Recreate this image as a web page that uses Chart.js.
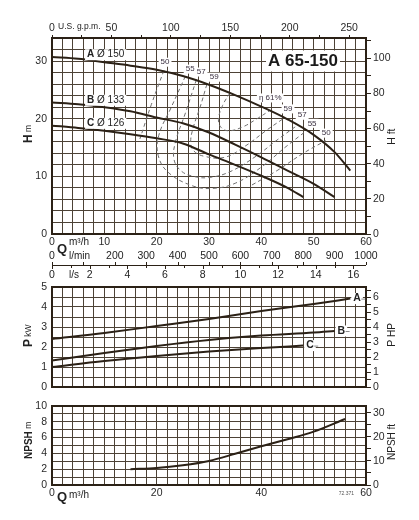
<!DOCTYPE html>
<html>
<head>
<meta charset="utf-8">
<script src="https://cdn.jsdelivr.net/npm/chart.js@4.4.0/dist/chart.umd.min.js"></script>
<style>
  body { margin: 0; background: #fff; }
  .caixa { position: absolute; left: 0; width: 419px; }
</style>
</head>
<body>
<div class="caixa" style="top:0;height:285px"><canvas id="grafH"></canvas></div>
<div class="caixa" style="top:275px;height:125px"><canvas id="grafP"></canvas></div>
<div class="caixa" style="top:393px;height:127px"><canvas id="grafN"></canvas></div>
<script>
// Curvas H-Q (vazão em m³/h, altura em m)
const qA = [0, 5, 10, 15, 20, 25, 30, 35, 40, 45, 50, 54, 57];
const hA = [30.7, 30.4, 29.8, 29.2, 28.5, 27.4, 25.9, 24.1, 22.1, 19.9, 17.2, 14.2, 11.0];
const qB = [0, 5, 10, 15, 20, 25, 30, 35, 40, 45, 50, 54];
const hB = [22.8, 22.5, 22.0, 21.3, 20.2, 19.2, 17.6, 15.5, 13.3, 11.0, 8.7, 6.4];
const qC = [0, 5, 10, 15, 20, 25, 30, 35, 40, 45, 48];
const hC = [18.8, 18.4, 17.9, 17.3, 16.6, 15.7, 13.8, 12.0, 10.1, 8.0, 6.4];
const nomes = ['A', 'B', 'C'];
const diametros = [150, 133, 126];

// Curvas de rendimento (tracejadas)
const q61 = [34.0, 32.6, 31.8, 32.3, 33.8, 36.5, 39.0, 41.6];
const h61 = [24.5, 22.3, 19.9, 18.5, 17.9, 18.6, 19.9, 21.4];
const q59 = [29.6, 28.3, 27.0, 26.5, 27.0, 29.0, 33.0, 37.0, 41.0, 44.5];
const h59 = [26.0, 22.0, 18.5, 16.0, 14.5, 13.5, 13.3, 15.3, 18.0, 20.2];
const q57 = [27.6, 25.5, 23.6, 23.3, 24.6, 27.0, 30.0, 34.0, 39.0, 43.0, 46.8];
const h57 = [26.8, 21.0, 16.0, 13.0, 11.0, 10.0, 9.8, 10.8, 13.5, 16.3, 18.8];
const q55 = [25.5, 22.8, 20.4, 20.3, 22.2, 26.7, 30.5, 35.0, 40.0, 44.5, 48.6];
const h55 = [27.4, 22.0, 17.1, 13.6, 10.7, 8.4, 7.9, 8.8, 11.6, 15.0, 17.9];
const q50a = [21.4, 19.0, 16.8];
const h50a = [28.4, 22.5, 16.5];
const q50b = [38.2, 43.0, 48.0, 52.3];
const h50b = [8.5, 11.0, 14.0, 16.2];
const etaTexto = ['50', '55', '57', '59', 'η 61%', '59', '57', '55', '50'];
const etaQ = [21.6, 26.4, 28.5, 31.0, 41.7, 45.1, 47.8, 49.7, 52.4];
const etaH = [29.8, 28.6, 28.1, 27.2, 23.6, 21.7, 20.6, 19.2, 17.5];

// Potência absorvida (kW)
const qPA = [0, 10, 20, 30, 40, 50, 57];
const pA = [2.4, 2.7, 3.05, 3.4, 3.8, 4.15, 4.42];
const qPB = [0, 10, 20, 30, 40, 50, 54];
const pB = [1.32, 1.7, 2.05, 2.35, 2.57, 2.72, 2.8];
const qPC = [0, 10, 20, 30, 40, 48];
const pC = [1.0, 1.3, 1.55, 1.77, 1.95, 2.07];

// NPSH (m)
const qN = [15, 20, 25, 30, 35, 40, 45, 50, 56];
const npsh = [2.0, 2.15, 2.5, 3.05, 3.95, 4.9, 5.8, 6.75, 8.35];

// Escalas secundárias
const ticksLmin = [200, 300, 400, 500, 600, 700, 800, 900, 1000];
const ticksLs = [2, 4, 6, 8, 10, 12, 14, 16];
const gpmPorM3h = 4.4029;
const ftPorM = 1 / 0.3048;
const hpPorKw = 1 / 0.7457;

const FONTE = "'Liberation Sans', Arial, Helvetica, sans-serif";
const COR_CURVA = '#2b2116';
const COR_GRADE = '#4d4236';
const COR_TRACO = '#6e6e6e';

Chart.defaults.font.family = FONTE;
Chart.defaults.font.size = 10.5;
Chart.defaults.color = '#2a2a2a';

const pts = (xs, ys) => xs.map((x, i) => ({ x: x, y: ys[i] }));
const multiplo = (v, m) => Math.abs(v - Math.round(v / m) * m) < 1e-6;
// lista de marcas de 0 até max (sem a marca extra no max)
function marcas(passo, max) {
    const r = [];
    for (let i = 0; i * passo <= max + 1e-9; i++) r.push({ value: +(i * passo).toFixed(6) });
    return r;
}

function curva(xs, ys) {
    return { data: pts(xs, ys), showLine: true, pointRadius: 0, borderColor: COR_CURVA, borderWidth: 2, cubicInterpolationMode: 'monotone' };
}
function tracejada(xs, ys) {
    return { data: pts(xs, ys), showLine: true, pointRadius: 0, borderColor: COR_TRACO, borderWidth: 1, borderDash: [4, 3], tension: 0.4 };
}

// texto em partes (fonte diferente em cada parte)
function rotulo(ctx, partes, x, y, alinhar, fundo) {
    let larg = 0;
    partes.forEach(p => { ctx.font = p[1]; larg += ctx.measureText(p[0]).width; });
    let x0 = alinhar === 'center' ? x - larg / 2 : (alinhar === 'right' ? x - larg : x);
    if (fundo) {
        ctx.fillStyle = '#fff';
        ctx.fillRect(x0 - 2, y - fundo / 2, larg + 4, fundo);
    }
    ctx.textBaseline = 'middle';
    ctx.textAlign = 'left';
    partes.forEach(p => {
        ctx.font = p[1];
        ctx.fillStyle = p[2] || '#222';
        ctx.fillText(p[0], x0, y);
        x0 += ctx.measureText(p[0]).width;
    });
}
function tituloVertical(ctx, partes, x, yBase) {
    ctx.save();
    ctx.translate(x, yBase);
    ctx.rotate(-Math.PI / 2);
    rotulo(ctx, partes, 0, 0, 'left');
    ctx.restore();
}
function moldura(ctx, ca) {
    ctx.strokeStyle = COR_CURVA;
    ctx.lineWidth = 2;
    ctx.strokeRect(ca.left, ca.top, ca.right - ca.left, ca.bottom - ca.top);
}

function eixoX(altura, rotulos, passoRot) {
    return {
        type: 'linear', position: 'bottom', min: 0, max: 60,
        afterBuildTicks: s => { s.ticks = marcas(2, 60); },
        ticks: { display: rotulos, padding: 2, autoSkip: false, maxRotation: 0,
                 callback: v => multiplo(v, passoRot) ? v : '' },
        grid: { color: COR_GRADE, drawTicks: false },
        border: { display: false },
        afterFit: s => { s.height = altura; }
    };
}
function eixoEsq(max, passo, passoRot) {
    return {
        type: 'linear', position: 'left', min: 0, max: max,
        afterBuildTicks: s => { s.ticks = marcas(passo, max); },
        ticks: { padding: 5, autoSkip: false, callback: v => multiplo(v, passoRot) ? v : '' },
        grid: { color: COR_GRADE, drawTicks: false },
        border: { display: false },
        afterFit: s => { s.width = 52; }
    };
}
function eixoDir(max, passo, passoRot) {
    return {
        type: 'linear', position: 'right', min: 0, max: max,
        afterBuildTicks: s => { s.ticks = marcas(passo, max); },
        ticks: { padding: 2, autoSkip: false, callback: v => multiplo(v, passoRot) ? v : '' },
        grid: { drawOnChartArea: false, tickLength: 5, color: COR_CURVA },
        border: { display: false },
        afterFit: s => { s.width = 53; }
    };
}
function eixoTopoVazio(altura) {
    return {
        type: 'linear', position: 'top', min: 0, max: 1,
        ticks: { display: false }, grid: { display: false }, border: { display: false },
        afterFit: s => { s.height = altura; }
    };
}
const opcoesBase = {
    responsive: true, maintainAspectRatio: false, animation: false,
    layout: { padding: 0 },
    plugins: { legend: { display: false }, tooltip: { enabled: false } }
};

// ---------------- Gráfico H-Q ----------------
const extrasH = {
    id: 'extrasH',
    afterDraw(chart) {
        const { ctx, chartArea: ca, scales } = chart;
        const sx = scales.x, sy = scales.y;
        ctx.save();
        moldura(ctx, ca);

        // rótulos das curvas A, B, C
        const alturas = [hA[0], hB[0], hC[0]];
        nomes.forEach((n, i) => {
            rotulo(ctx, [[n, 'bold 10px ' + FONTE], [' Ø ' + diametros[i], '10px ' + FONTE]],
                sx.getPixelForValue(6.7), sy.getPixelForValue(alturas[i] + 0.4), 'left', 11);
        });
        // rótulos de rendimento
        etaTexto.forEach((t, i) => {
            rotulo(ctx, [[t, '8px ' + FONTE, '#3a3040']], sx.getPixelForValue(etaQ[i]), sy.getPixelForValue(etaH[i]), 'center', 9);
        });
        // modelo
        rotulo(ctx, [['A 65-150', 'bold 17px ' + FONTE, '#1a1a1a']], ca.right - 63, ca.top + 23, 'center', 21);

        // títulos
        rotulo(ctx, [['U.S. g.p.m.', '8.5px ' + FONTE]], ca.left + 6, ca.top - 11, 'left');
        tituloVertical(ctx, [['H', 'bold 12px ' + FONTE], [' m', '8.5px ' + FONTE]], 29, ca.top + 105);
        tituloVertical(ctx, [['H', '11px ' + FONTE], [' ft', '10px ' + FONTE]], 392, ca.top + 107);
        rotulo(ctx, [['Q', 'bold 13px ' + FONTE]], ca.left + 5, ca.bottom + 15, 'left');
        rotulo(ctx, [['m³/h', '10px ' + FONTE]], ca.left + 17, ca.bottom + 8, 'left');

        // escalas l/min e l/s
        const yLmin = ca.bottom + 22, yLinha = ca.bottom + 31, yLs = ca.bottom + 41;
        rotulo(ctx, [['0', '10.5px ' + FONTE]], ca.left, yLmin, 'center');
        rotulo(ctx, [['l/min', '10px ' + FONTE]], ca.left + 17, yLmin, 'left');
        ticksLmin.forEach(v => rotulo(ctx, [[String(v), '10.5px ' + FONTE]], sx.getPixelForValue(v * 0.06), yLmin, 'center'));
        rotulo(ctx, [['0', '10.5px ' + FONTE]], ca.left, yLs, 'center');
        rotulo(ctx, [['l/s', '10px ' + FONTE]], ca.left + 17, yLs, 'left');
        ticksLs.forEach(v => rotulo(ctx, [[String(v), '10.5px ' + FONTE]], sx.getPixelForValue(v * 3.6), yLs, 'center'));

        ctx.strokeStyle = COR_CURVA;
        ctx.lineWidth = 1;
        ctx.beginPath();
        ctx.moveTo(ca.left, yLinha + 0.5);
        ctx.lineTo(ca.right, yLinha + 0.5);
        for (let v = 0; v <= 1000; v += 100) {
            const x = Math.round(sx.getPixelForValue(v * 0.06)) + 0.5;
            ctx.moveTo(x, yLinha); ctx.lineTo(x, yLinha - 3);
        }
        for (let v = 0; v <= 16; v++) {
            const x = Math.round(sx.getPixelForValue(v * 3.6)) + 0.5;
            ctx.moveTo(x, yLinha); ctx.lineTo(x, yLinha + (v % 2 ? 3 : 4));
        }
        ctx.stroke();
        ctx.restore();
    }
};

new Chart(document.getElementById('grafH'), {
    type: 'scatter',
    data: {
        datasets: [
            curva(qA, hA), curva(qB, hB), curva(qC, hC),
            tracejada(q61, h61), tracejada(q59, h59), tracejada(q57, h57),
            tracejada(q55, h55), tracejada(q50a, h50a), tracejada(q50b, h50b)
        ]
    },
    options: Object.assign({}, opcoesBase, {
        scales: {
            x: eixoX(51, true, 10),
            gpm: {
                type: 'linear', position: 'top', min: 0, max: 60 * gpmPorM3h,
                afterBuildTicks: s => { s.ticks = marcas(25, 60 * gpmPorM3h); },
                ticks: { padding: 1, autoSkip: false, maxRotation: 0,
                         callback: v => multiplo(v, 50) ? v : '' },
                grid: { drawOnChartArea: false, tickLength: 3, color: COR_CURVA },
                border: { display: false },
                afterFit: s => { s.height = 38; }
            },
            y: eixoEsq(34, 2, 10),
            ft: eixoDir(34 * ftPorM, 10, 20)
        }
    }),
    plugins: [extrasH]
});

// ---------------- Gráfico de potência ----------------
const extrasP = {
    id: 'extrasP',
    afterDraw(chart) {
        const { ctx, chartArea: ca, scales } = chart;
        const sx = scales.x, sy = scales.y;
        ctx.save();
        moldura(ctx, ca);
        const fins = [[qPA, pA], [qPB, pB], [qPC, pC]];
        fins.forEach((f, i) => {
            const n = f[0].length - 1;
            const xe = sx.getPixelForValue(f[0][n]);
            const ye = sy.getPixelForValue(f[1][n]);
            rotulo(ctx, [[nomes[i], 'bold 10.5px ' + FONTE]], xe + 3, ye, 'left', 11);
            ctx.strokeStyle = '#8a8a8a';
            ctx.lineWidth = 1;
            ctx.beginPath();
            ctx.moveTo(xe + 11, ye + 0.5);
            ctx.lineTo(xe + 15, ye + 0.5);
            ctx.stroke();
        });
        tituloVertical(ctx, [['P', 'bold 12px ' + FONTE], [' kW', '8.5px ' + FONTE]], 29, ca.top + 60);
        tituloVertical(ctx, [['P', '11px ' + FONTE], [' HP', '10px ' + FONTE]], 392, ca.top + 60);
        ctx.restore();
    }
};

new Chart(document.getElementById('grafP'), {
    type: 'scatter',
    data: { datasets: [curva(qPA, pA), curva(qPB, pB), curva(qPC, pC)] },
    options: Object.assign({}, opcoesBase, {
        scales: {
            x: eixoX(13, false, 10),
            topo: eixoTopoVazio(12),
            y: eixoEsq(5, 0.5, 1),
            hp: eixoDir(5 * hpPorKw, 0.5, 1)
        }
    }),
    plugins: [extrasP]
});

// ---------------- Gráfico NPSH ----------------
const extrasN = {
    id: 'extrasN',
    afterDraw(chart) {
        const { ctx, chartArea: ca } = chart;
        ctx.save();
        moldura(ctx, ca);
        tituloVertical(ctx, [['NPSH', 'bold 10px ' + FONTE], [' m', '8.5px ' + FONTE]], 29, ca.top + 53);
        tituloVertical(ctx, [['NPSH ft', '10px ' + FONTE]], 392, ca.top + 54);
        rotulo(ctx, [['Q', 'bold 13px ' + FONTE]], ca.left + 5, ca.bottom + 12, 'left');
        rotulo(ctx, [['m³/h', '10px ' + FONTE]], ca.left + 17, ca.bottom + 10, 'left');
        rotulo(ctx, [['72.371', '5px ' + FONTE, '#555']], ca.right - 12, ca.bottom + 9, 'right');
        ctx.restore();
    }
};

new Chart(document.getElementById('grafN'), {
    type: 'scatter',
    data: { datasets: [curva(qN, npsh)] },
    options: Object.assign({}, opcoesBase, {
        scales: {
            x: eixoX(35, true, 20),
            topo: eixoTopoVazio(13),
            y: eixoEsq(10, 1, 2),
            ft: eixoDir(10 * ftPorM, 5, 10)
        }
    }),
    plugins: [extrasN]
});
</script>
</body>
</html>
